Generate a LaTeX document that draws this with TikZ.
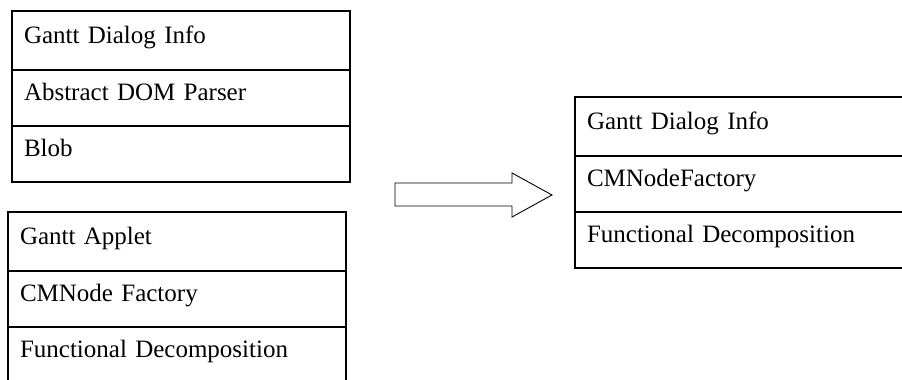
\documentclass[tikz,border=0pt]{standalone}
\usepackage{fontspec}
\setmainfont{Liberation Serif}
\usetikzlibrary{positioning}

\begin{document}
\begin{tikzpicture}[x=1pt, y=-1pt]
  \tikzset{row/.style={draw, line width=1.6pt, outer sep=0pt, inner xsep=12pt, inner ysep=0pt,
      text width=314pt, align=left, text height=17pt, text depth=12pt,
      minimum height=56pt, font=\fontsize{25}{30}\selectfont}};
  \tikzset{toprow/.style={row, minimum height=59pt, anchor=north west}};
  \tikzset{hollow/.style={draw, line width=0.9pt, line join=miter}};

  \clip (0,0) rectangle (902,380);

  % first lineup
  \node[toprow] (a1) at (12,11) {Gantt Dialog Info};
  \node[row, below=0pt of a1] (a2) {Abstract DOM Parser};
  \node[row, below=0pt of a2] (a3) {Blob};

  % second lineup
  \node[toprow] (b1) at (8,212) {Gantt Applet};
  \node[row, below=0pt of b1] (b2) {CMNode Factory};
  \node[row, below=0pt of b2] (b3) {Functional Decomposition};

  % merged lineup
  \node[toprow] (c1) at (575,97) {Gantt Dialog Info};
  \node[row, below=0pt of c1] (c2) {CMNodeFactory};
  \node[row, below=0pt of c2] (c3) {Functional Decomposition};

  % arrow
  \draw[hollow] (395,183) -- (512,183) -- (512,173) -- (552,195)
    -- (512,217) -- (512,206) -- (395,206) -- cycle;
\end{tikzpicture}
\end{document}
